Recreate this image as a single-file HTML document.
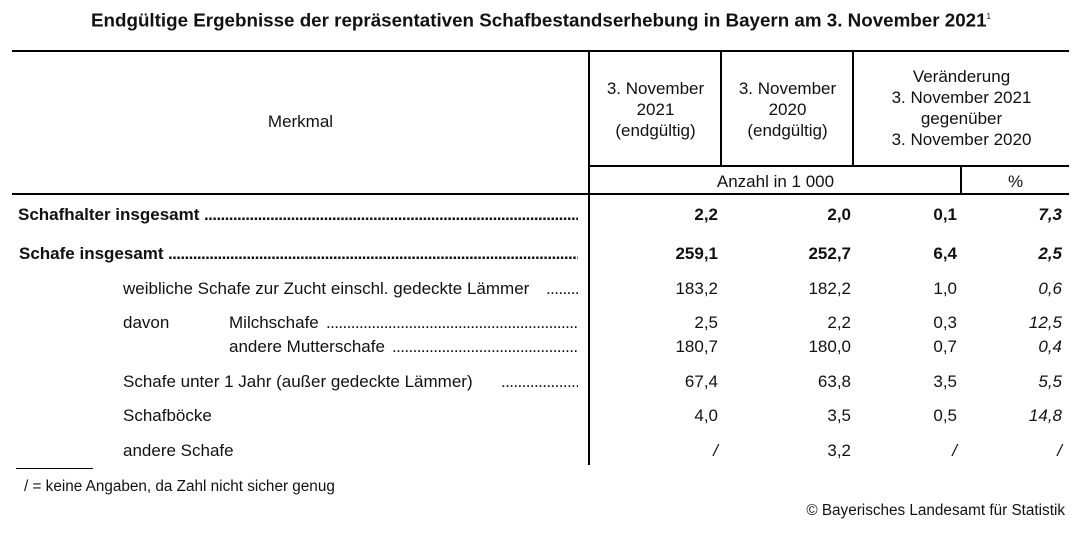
<!DOCTYPE html>
<html><head><meta charset="utf-8"><style>
body{margin:0;width:1082px;height:536px;background:#fff;position:relative;font-family:"Liberation Sans",Arial,sans-serif;color:#111;overflow:hidden}
.t{position:absolute;font-size:17px;white-space:nowrap;line-height:18px}
.b{font-weight:bold}
.i{font-style:italic}
.r{text-align:right}
.c{text-align:center}
.h{position:absolute;background:#000;height:2px}
.v{position:absolute;background:#000;width:2px}
.d{position:absolute;overflow:hidden;white-space:nowrap;font-size:17px;line-height:18px;letter-spacing:-0.6px}
</style></head><body>
<div class="t b" style="left:0;width:1082px;top:8px;font-size:18.8px;text-align:center">Endgültige Ergebnisse der repräsentativen Schafbestandserhebung in Bayern am 3. November 2021<sup style="font-size:8px;font-weight:normal">1</sup></div>
<div class="h" style="left:12px;width:1057px;top:50px"></div>
<div class="h" style="left:589px;width:480px;top:165px"></div>
<div class="h" style="left:12px;width:1057px;top:193px"></div>
<div class="v" style="left:588px;top:50px;height:415px"></div>
<div class="v" style="left:720px;top:50px;height:116px"></div>
<div class="v" style="left:852px;top:50px;height:116px"></div>
<div class="v" style="left:960px;top:165px;height:30px"></div>
<div class="t c" style="left:12px;width:577px;top:113px">Merkmal</div>
<div class="t c" style="left:590px;width:131px;top:78px;line-height:21px">3. November<br>2021<br>(endgültig)</div>
<div class="t c" style="left:722px;width:131px;top:78px;line-height:21px">3. November<br>2020<br>(endgültig)</div>
<div class="t c" style="left:854px;width:215px;top:66px;line-height:21px">Veränderung<br>3. November 2021<br>gegenüber<br>3. November 2020</div>
<div class="t c" style="left:590px;width:371px;top:173px">Anzahl in 1 000</div>
<div class="t c" style="left:962px;width:107px;top:173px">%</div>

<div class="t b" style="left:18px;top:206px">Schafhalter insgesamt</div><div class="d b" style="left:204px;width:374px;top:206px">..............................................................................................................</div>
<div class="t b" style="left:19px;top:245px">Schafe insgesamt</div><div class="d b" style="left:168px;width:410px;top:245px">........................................................................................................................</div>
<div class="t" style="left:123px;top:280px">weibliche Schafe zur Zucht einschl. gedeckte Lämmer</div><div class="d" style="left:546px;width:32px;top:280px">..........</div>
<div class="t" style="left:123px;top:314px">davon</div>
<div class="t" style="left:229px;top:314px">Milchschafe</div><div class="d" style="left:326px;width:252px;top:314px">..........................................................................</div>
<div class="t" style="left:229px;top:338px">andere Mutterschafe</div><div class="d" style="left:392px;width:186px;top:338px">.......................................................</div>
<div class="t" style="left:123px;top:373px">Schafe unter 1 Jahr (außer gedeckte Lämmer)</div><div class="d" style="left:501px;width:77px;top:373px">.......................</div>
<div class="t" style="left:123px;top:407px">Schafböcke</div>
<div class="t" style="left:123px;top:442px">andere Schafe</div>

<div class="t b r" style="left:600px;width:118px;top:206px">2,2</div><div class="t b r" style="left:730px;width:121px;top:206px">2,0</div><div class="t b r" style="left:860px;width:97px;top:206px">0,1</div><div class="t b i r" style="left:970px;width:92px;top:206px">7,3</div>
<div class="t b r" style="left:600px;width:118px;top:245px">259,1</div><div class="t b r" style="left:730px;width:121px;top:245px">252,7</div><div class="t b r" style="left:860px;width:97px;top:245px">6,4</div><div class="t b i r" style="left:970px;width:92px;top:245px">2,5</div>
<div class="t r" style="left:600px;width:118px;top:280px">183,2</div><div class="t r" style="left:730px;width:121px;top:280px">182,2</div><div class="t r" style="left:860px;width:97px;top:280px">1,0</div><div class="t i r" style="left:970px;width:92px;top:280px">0,6</div>
<div class="t r" style="left:600px;width:118px;top:314px">2,5</div><div class="t r" style="left:730px;width:121px;top:314px">2,2</div><div class="t r" style="left:860px;width:97px;top:314px">0,3</div><div class="t i r" style="left:970px;width:92px;top:314px">12,5</div>
<div class="t r" style="left:600px;width:118px;top:338px">180,7</div><div class="t r" style="left:730px;width:121px;top:338px">180,0</div><div class="t r" style="left:860px;width:97px;top:338px">0,7</div><div class="t i r" style="left:970px;width:92px;top:338px">0,4</div>
<div class="t r" style="left:600px;width:118px;top:373px">67,4</div><div class="t r" style="left:730px;width:121px;top:373px">63,8</div><div class="t r" style="left:860px;width:97px;top:373px">3,5</div><div class="t i r" style="left:970px;width:92px;top:373px">5,5</div>
<div class="t r" style="left:600px;width:118px;top:407px">4,0</div><div class="t r" style="left:730px;width:121px;top:407px">3,5</div><div class="t r" style="left:860px;width:97px;top:407px">0,5</div><div class="t i r" style="left:970px;width:92px;top:407px">14,8</div>
<div class="t i r" style="left:600px;width:118px;top:442px">/</div><div class="t r" style="left:730px;width:121px;top:442px">3,2</div><div class="t i r" style="left:860px;width:97px;top:442px">/</div><div class="t i r" style="left:970px;width:92px;top:442px">/</div>

<div style="position:absolute;left:16px;top:468px;width:77px;height:1px;background:#000"></div>
<div class="t" style="left:24px;top:478px;font-size:15.3px">/ = keine Angaben, da Zahl nicht sicher genug</div>
<div class="t r" style="left:660px;width:405px;top:502px;font-size:15.3px">© Bayerisches Landesamt für Statistik</div>
</body></html>
